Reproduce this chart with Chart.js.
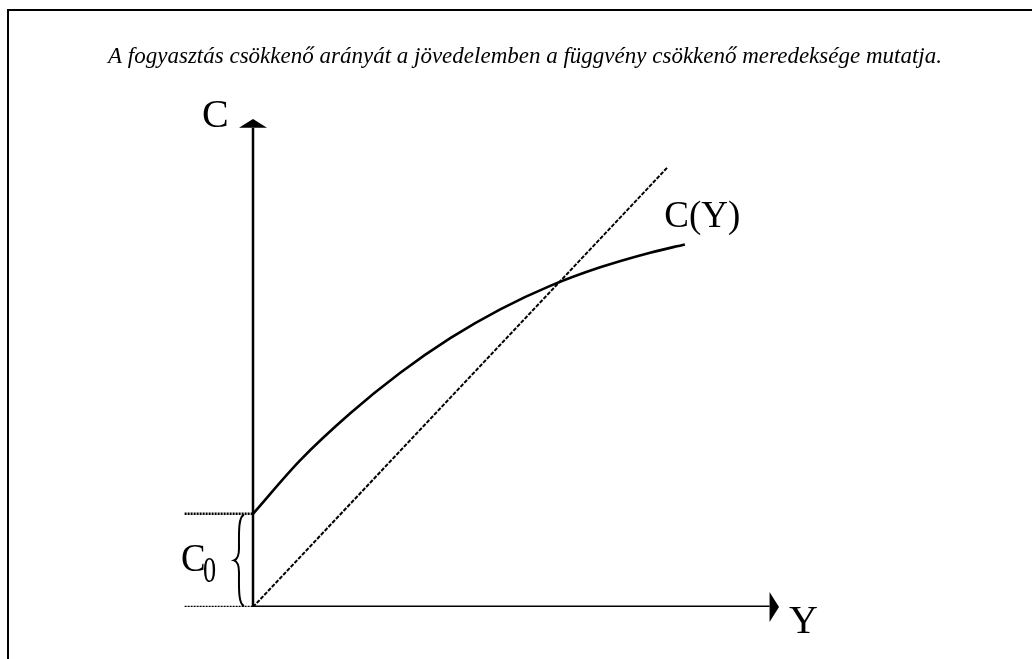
<!DOCTYPE html>
<html>
<head>
<meta charset="utf-8">
<script src="https://cdn.jsdelivr.net/npm/chart.js@4.4.1/dist/chart.umd.min.js"></script>
<style>
  html, body { margin: 0; padding: 0; background: #fff; }
  #wrap { position: relative; width: 1032px; height: 659px; }
  #frame { position: absolute; left: 7px; top: 9px; right: 0; bottom: 0; border-left: 2px solid #000; border-top: 2px solid #000; }
  canvas { position: absolute; left: 0; top: 0; }
</style>
</head>
<body>
<div id="wrap">
  <div id="frame"></div>
  <canvas id="myChart" width="1032" height="659"></canvas>
</div>
<script>
// consumption curve C(Y)
const curveX = [0, 0.9, 1.85, 2.8, 3.75, 4.7, 5.65, 6.6, 7.55, 8.21];
const curveY = [1.91, 3.01, 3.97, 4.80, 5.51, 6.10, 6.58, 6.96, 7.26, 7.43];
// 45 degree-ish reference line
const lineX = [0, 7.89];
const lineY = [0, 9.02];
// autonomous consumption C0
const c0 = 1.91;
const guideX = [-1.3, 0];
// axis ends (arrow base / arrow tip)
const axisEnd = 9.82;
const axisTip = 10;

const titleText = 'A fogyasztás csökkenő arányát a jövedelemben a függvény csökkenő meredeksége mutatja.';
const labelC = 'C';
const labelY = 'Y';
const labelCY = 'C(Y)';

const toPts = (xs, ys) => xs.map((x, i) => ({x: x, y: ys[i]}));

const datasets = [
  {
    label: 'C(Y)',
    data: toPts(curveX, curveY),
    borderColor: '#000',
    borderWidth: 2.6,
    cubicInterpolationMode: 'monotone',
    pointRadius: 0
  },
  {
    label: 'line',
    data: toPts(lineX, lineY),
    borderColor: '#000',
    borderWidth: 2,
    borderDash: [4, 1.5],
    pointRadius: 0
  },
  {
    label: 'c0 guide',
    data: toPts(guideX, [c0, c0]),
    borderColor: '#000',
    borderWidth: 2.5,
    borderDash: [2, 1],
    pointRadius: 0
  },
  {
    label: 'zero guide',
    data: toPts(guideX, [0, 0]),
    borderColor: '#000',
    borderWidth: 2.5,
    borderDash: [2, 1],
    pointRadius: 0
  },
  {
    label: 'y axis',
    data: toPts([0, 0], [0, axisEnd]),
    borderColor: '#000',
    borderWidth: 2.5,
    pointRadius: 0
  },
  {
    label: 'x axis',
    data: toPts([0, axisEnd], [0, 0]),
    borderColor: '#000',
    borderWidth: 3,
    pointRadius: 0
  }
];

const decorations = {
  id: 'decorations',
  afterDatasetsDraw(chart) {
    const ctx = chart.ctx;
    const xs = chart.scales.x, ys = chart.scales.y;
    const ox = xs.getPixelForValue(0), oy = ys.getPixelForValue(0);
    ctx.save();
    ctx.fillStyle = '#000';
    ctx.strokeStyle = '#000';

    // arrow heads
    const yb = ys.getPixelForValue(axisEnd), yt = ys.getPixelForValue(axisTip);
    ctx.beginPath();
    ctx.moveTo(ox, yt);
    ctx.lineTo(ox + 14, yb);
    ctx.lineTo(ox - 14, yb);
    ctx.closePath();
    ctx.fill();
    const xb = xs.getPixelForValue(axisEnd), xt = xs.getPixelForValue(axisTip);
    ctx.beginPath();
    ctx.moveTo(xt, oy);
    ctx.lineTo(xb, oy - 15);
    ctx.lineTo(xb, oy + 15);
    ctx.closePath();
    ctx.fill();

    // brace for C0
    const bTop = ys.getPixelForValue(c0), bBot = oy;
    const bMid = (bTop + bBot) / 2;
    const bx = ox - 14;
    ctx.lineWidth = 2;
    ctx.beginPath();
    ctx.moveTo(bx + 5, bTop + 1);
    ctx.bezierCurveTo(bx - 1, bTop + 3, bx, bMid - 25, bx, bMid - 12);
    ctx.bezierCurveTo(bx, bMid - 4, bx - 2, bMid - 1, bx - 5, bMid);
    ctx.bezierCurveTo(bx - 2, bMid + 1, bx, bMid + 4, bx, bMid + 12);
    ctx.bezierCurveTo(bx, bMid + 25, bx - 1, bBot - 3, bx + 5, bBot - 1);
    ctx.stroke();

    // labels
    ctx.textBaseline = 'alphabetic';
    ctx.textAlign = 'left';
    ctx.font = '40px "Liberation Serif"';
    ctx.fillText(labelC, ox - 51, ys.getPixelForValue(axisTip) + 8);
    ctx.fillText(labelY, xs.getPixelForValue(axisTip) + 10, oy + 26);
    ctx.font = '37px "Liberation Serif"';
    ctx.fillText(labelCY, xs.getPixelForValue(7.82), ys.getPixelForValue(curveY[curveY.length - 1]) - 17);

    // C0 label, slightly condensed like the original
    ctx.save();
    ctx.translate(ox - 72, bMid + 11);
    ctx.scale(0.9, 1);
    ctx.font = '41px "Liberation Serif"';
    ctx.fillText('C', 0, 0);
    ctx.restore();
    ctx.save();
    ctx.translate(ox - 50, bMid + 22);
    ctx.scale(0.75, 1);
    ctx.font = '35px "Liberation Serif"';
    ctx.fillText('0', 0, 0);
    ctx.restore();

    // title
    ctx.font = 'italic 23px "Liberation Serif"';
    ctx.textAlign = 'center';
    ctx.fillText(titleText, 525, 63);
    ctx.restore();
  }
};

new Chart(document.getElementById('myChart'), {
  type: 'line',
  data: { datasets: datasets },
  options: {
    responsive: false,
    animation: false,
    devicePixelRatio: 1,
    layout: { padding: { left: 147.8, right: 253, top: 119, bottom: 52 } },
    scales: {
      x: { type: 'linear', min: -2, max: 10, display: false },
      y: { type: 'linear', min: 0, max: 10, display: false }
    },
    plugins: {
      legend: { display: false },
      tooltip: { enabled: false }
    }
  },
  plugins: [decorations]
});
</script>
</body>
</html>
